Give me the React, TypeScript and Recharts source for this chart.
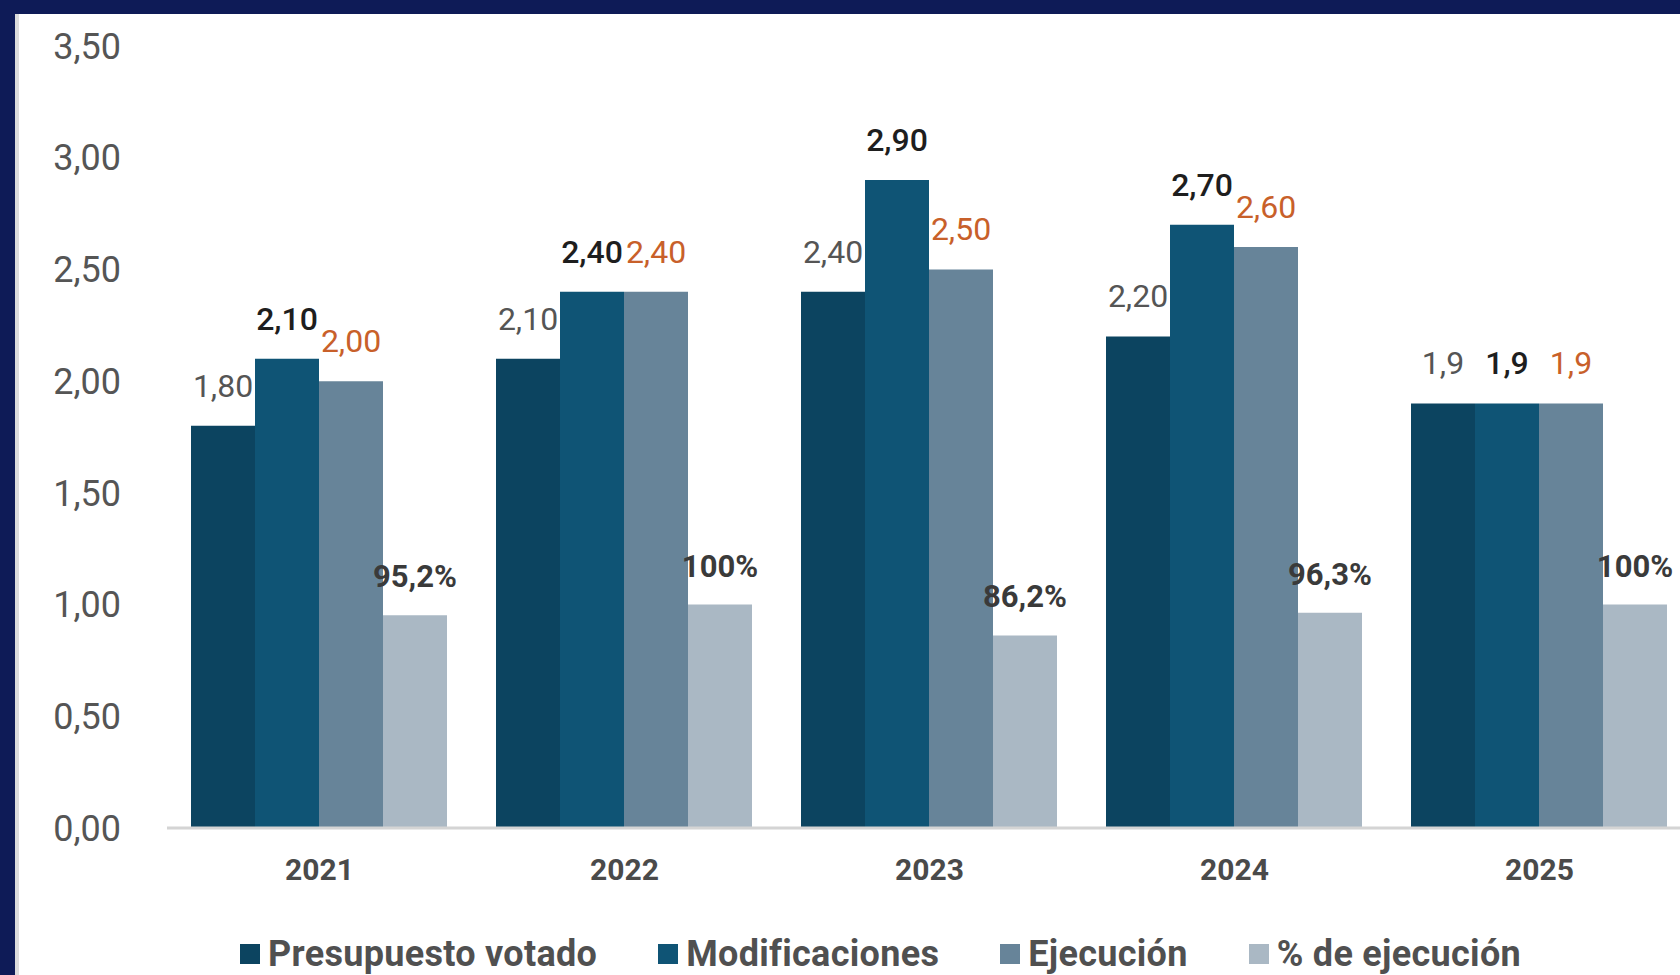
import { BarChart, Bar, XAxis, YAxis, LabelList, Legend } from "recharts"

const years = ["2021", "2022", "2023", "2024", "2025"]
const presupuesto = [1.8, 2.1, 2.4, 2.2, 1.9]
const modificaciones = [2.1, 2.4, 2.9, 2.7, 1.9]
const ejecucion = [2.0, 2.4, 2.5, 2.6, 1.9]
const porcentaje = [95.2, 100, 86.2, 96.3, 100]

const presupuestoLabels = ["1,80", "2,10", "2,40", "2,20", "1,9"]
const modificacionesLabels = ["2,10", "2,40", "2,90", "2,70", "1,9"]
const ejecucionLabels = ["2,00", "2,40", "2,50", "2,60", "1,9"]
const porcentajeLabels = ["95,2%", "100%", "86,2%", "96,3%", "100%"]

const yTicks = [0, 0.5, 1, 1.5, 2, 2.5, 3, 3.5]
const seriesNames = ["Presupuesto votado", "Modificaciones", "Ejecución", "% de ejecución"]
const colors = ["#0C4460", "#0F5475", "#678499", "#AAB8C4"]

const chartData = years.map((year, i) => ({
  year,
  presupuesto: presupuesto[i],
  modificaciones: modificaciones[i],
  ejecucion: ejecucion[i],
  porcentaje: porcentaje[i] / 100,
  presLabel: presupuestoLabels[i],
  modLabel: modificacionesLabels[i],
  ejeLabel: ejecucionLabels[i],
  pctLabel: porcentajeLabels[i],
}))

const formatY = (v: number) => v.toFixed(2).replace(".", ",")

const renderLegend = () => (
  <div style={{ display: "flex", alignItems: "center", gap: 61 }}>
    {seriesNames.map((name, i) => (
      <div key={name} style={{ display: "flex", alignItems: "center", gap: 8 }}>
        <span style={{ width: 20, height: 20, background: colors[i], display: "inline-block" }} />
        <span
          style={{
            fontSize: 36,
            fontWeight: 700,
            color: "#505050",
            lineHeight: "40px",
            whiteSpace: "nowrap",
            letterSpacing: 0.3,
          }}
        >
          {name}
        </span>
      </div>
    ))}
  </div>
)

export default function App() {
  return (
    <div
      style={{
        position: "absolute",
        left: 0,
        top: 0,
        width: 1680,
        height: 975,
        overflow: "hidden",
        background: "#0E1B57",
        fontFamily: "Roboto, sans-serif",
      }}
    >
      <div
        style={{
          position: "absolute",
          left: 15,
          top: 14,
          right: 0,
          bottom: 0,
          background: "#fff",
          borderLeft: "4px solid #dcdcdc",
        }}
      />
      <div style={{ position: "absolute", left: 0, top: 0 }}>
        <BarChart
          width={1701}
          height={975}
          data={chartData}
          margin={{ top: 46, right: 9, bottom: 107, left: 0 }}
          barCategoryGap={24}
          barGap={0}
        >
          <XAxis
            dataKey="year"
            height={40}
            axisLine={{ stroke: "#d4d4d4", strokeWidth: 3 }}
            tickLine={false}
            tickSize={0}
            tickMargin={31}
            tick={{ fill: "#4a4a4a", fontSize: 30, fontWeight: 700 }}
          />
          <YAxis
            width={167}
            domain={[0, 3.5]}
            ticks={yTicks}
            tickFormatter={formatY}
            axisLine={false}
            tickLine={false}
            tickSize={0}
            tickMargin={46}
            tick={{ fill: "#555", fontSize: 36 }}
          />
          <Legend
            verticalAlign="middle"
            align="center"
            layout="horizontal"
            content={renderLegend}
            wrapperStyle={{ top: 934, left: 240, width: 1440, height: 40 }}
          />
          <Bar dataKey="presupuesto" fill={colors[0]} isAnimationActive={false}>
            <LabelList dataKey="presLabel" position="top" offset={29} fill="#555" fontSize={32} />
          </Bar>
          <Bar dataKey="modificaciones" fill={colors[1]} isAnimationActive={false}>
            <LabelList dataKey="modLabel" position="top" offset={29} fill="#1e1e1e" fontSize={32} fontWeight={500} />
          </Bar>
          <Bar dataKey="ejecucion" fill={colors[2]} isAnimationActive={false}>
            <LabelList dataKey="ejeLabel" position="top" offset={29} fill="#C8602A" fontSize={32} />
          </Bar>
          <Bar dataKey="porcentaje" fill={colors[3]} isAnimationActive={false}>
            <LabelList dataKey="pctLabel" position="top" offset={28} fill="#3a3a3a" fontSize={31} fontWeight={700} />
          </Bar>
        </BarChart>
      </div>
    </div>
  )
}
